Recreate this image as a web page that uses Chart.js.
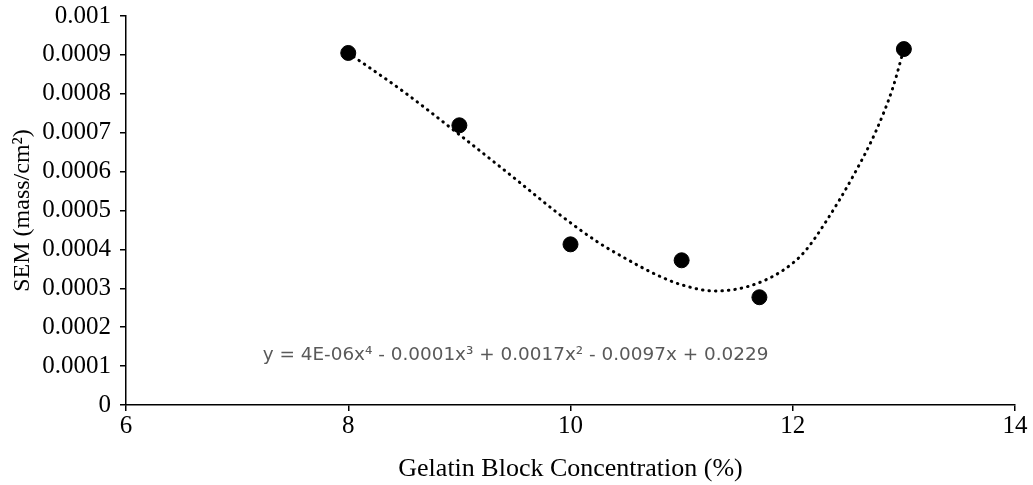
<!DOCTYPE html>
<html>
<head>
<meta charset="utf-8">
<script src="https://cdn.jsdelivr.net/npm/chart.js@4"></script>
<style>
  html, body { margin: 0; padding: 0; background: #fff; }
  #wrap { width: 1033px; height: 485px; }
</style>
</head>
<body>
<div id="wrap"><canvas id="grafico" width="1033" height="485"></canvas></div>
<script>
// pontos medidos
const concentracao = [8, 9, 10, 11, 11.7, 13];
const sem = [0.000905, 0.000719, 0.000413, 0.000372, 0.000277, 0.000915];

// linha de tendencia
const tendX = [8, 8.5, 9, 9.5, 9.9, 10.25, 10.5, 10.75, 11, 11.3, 11.6, 11.9, 12.1, 12.3, 12.55, 12.75, 12.9, 13];
const tendY = [0.000905, 0.000805, 0.000695, 0.000582, 0.00049, 0.000418, 0.000376, 0.000338, 0.000309, 0.000293,
  0.000305, 0.000344, 0.000392, 0.000472, 0.000592, 0.000705, 0.000815, 0.000915];

const xTicks = ['6', '8', '10', '12', '14'];
const yTicks = ['0', '0.0001', '0.0002', '0.0003', '0.0004', '0.0005', '0.0006', '0.0007', '0.0008', '0.0009', '0.001'];
const equacao = 'y = 4E-06x\u2074 - 0.0001x\u00b3 + 0.0017x\u00b2 - 0.0097x + 0.0229';

const serif = '"Liberation Serif", "Times New Roman", serif';

const textoEquacao = {
  id: 'textoEquacao',
  afterDatasetsDraw(chart) {
    const ctx = chart.ctx;
    const x = chart.scales.x.getPixelForValue(7.23);
    const y = chart.scales.y.getPixelForValue(0.000129);
    ctx.save();
    ctx.font = '20px "DejaVu Sans", sans-serif';
    const w = ctx.measureText(equacao).width;
    const size = 20 * 506 / w;
    ctx.font = size.toFixed(2) + 'px "DejaVu Sans", sans-serif';
    ctx.fillStyle = '#595959';
    ctx.textBaseline = 'middle';
    ctx.fillText(equacao, x, y);
    ctx.restore();
  }
};

new Chart(grafico, {
  type: 'scatter',
  data: {
    datasets: [{
      label: 'Pontos',
      data: concentracao.map((c, i) => ({ x: c, y: sem[i] })),
      backgroundColor: '#000',
      borderColor: '#000',
      pointRadius: 7.5,
      pointHoverRadius: 7.5,
      order: 1
    }, {
      label: 'Tendencia',
      data: tendX.map((c, i) => ({ x: c, y: tendY[i] })),
      showLine: true,
      borderColor: '#000',
      borderWidth: 3,
      borderDash: [0.5, 6],
      borderCapStyle: 'round',
      cubicInterpolationMode: 'monotone',
      pointRadius: 0,
      order: 2
    }]
  },
  options: {
    responsive: false,
    animation: false,
    layout: { padding: { top: 0, right: 18, left: 0, bottom: 0 } },
    plugins: {
      legend: { display: false },
      tooltip: { enabled: false }
    },
    scales: {
      x: {
        type: 'linear',
        min: 6,
        max: 14,
        afterBuildTicks: s => { s.ticks = xTicks.map(t => ({ value: Number(t) })); },
        ticks: {
          callback: (v, i) => xTicks[i],
          color: '#000',
          font: { family: serif, size: 25 },
          padding: 0,
          maxRotation: 0
        },
        grid: { drawOnChartArea: false, tickLength: 6, color: '#000', lineWidth: 1.5 },
        border: { color: '#000', width: 1.5 },
        title: {
          display: true,
          text: 'Gelatin Block Concentration (%)',
          color: '#000',
          font: { family: serif, size: 26 },
          padding: { top: 4, bottom: 0 }
        },
        afterFit: s => { s.height = 80; }
      },
      y: {
        min: 0,
        max: 0.001,
        afterBuildTicks: s => { s.ticks = yTicks.map(t => ({ value: Number(t) })); },
        ticks: {
          callback: (v, i) => yTicks[i],
          color: '#000',
          font: { family: serif, size: 25 },
          padding: 9
        },
        grid: { drawOnChartArea: false, tickLength: 6, color: '#000', lineWidth: 1.5 },
        border: { color: '#000', width: 1.5 },
        title: {
          display: true,
          text: 'SEM (mass/cm\u00b2)',
          color: '#000',
          font: { family: serif, size: 24 },
          padding: { top: 8, bottom: 0 }
        },
        afterFit: s => { s.width = 126; s.paddingTop = 16; s.paddingBottom = 0; }
      }
    }
  },
  plugins: [textoEquacao]
});
</script>
</body>
</html>
